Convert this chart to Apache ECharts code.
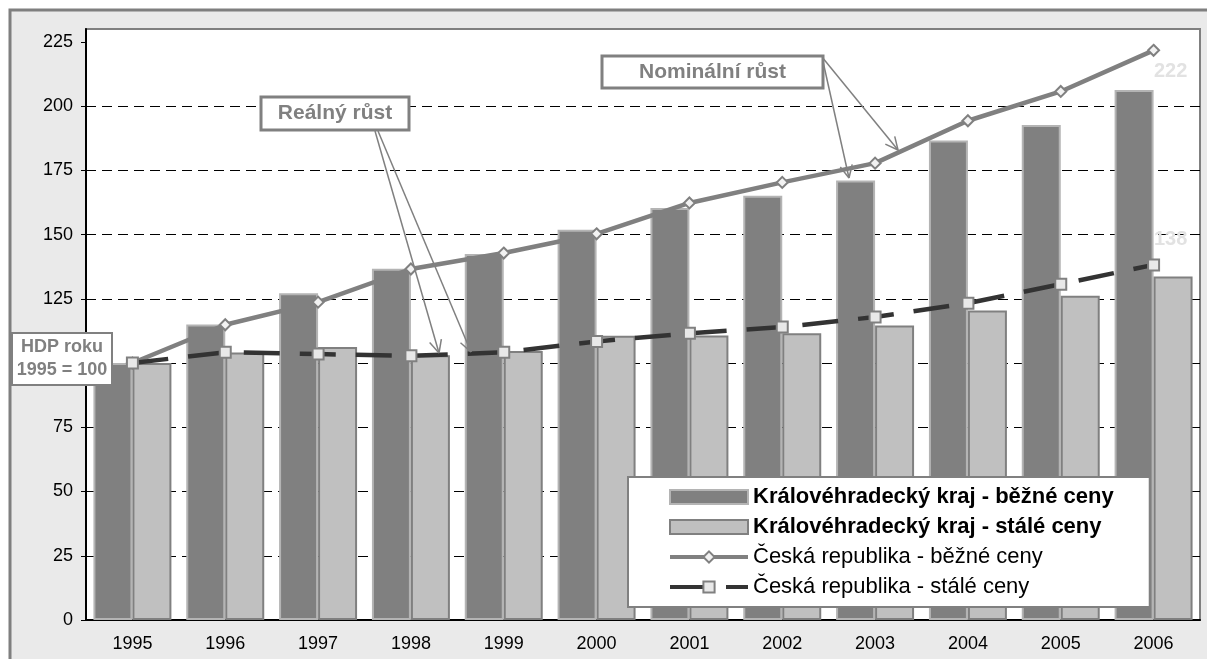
<!DOCTYPE html>
<html>
<head>
<meta charset="utf-8">
<script src="https://cdn.jsdelivr.net/npm/echarts@6/dist/echarts.min.js"></script>
<style>
  html, body { margin: 0; padding: 0; background: #fff; }
  #chart { width: 1207px; height: 659px; }
</style>
</head>
<body>
<div id="chart"></div>
<script>
const years = ['1995', '1996', '1997', '1998', '1999', '2000', '2001', '2002', '2003', '2004', '2005', '2006'];
const krajBezne = [100, 115, 127.2, 136.7, 142.4, 151.9, 160.3, 165.1, 171, 186.6, 192.6, 206.3];
const krajStale = [100, 104.1, 106.2, 103, 104.7, 110.6, 110.7, 111.6, 114.6, 120.4, 126.2, 133.7];
const crBezne = [100, 114.9, 123.7, 136.6, 142.8, 150.3, 162.3, 170.3, 177.8, 194.3, 205.7, 221.7];
const crStale = [100, 104.2, 103.5, 102.8, 104.2, 108.4, 111.6, 114, 117.9, 123.3, 130.7, 138.2];
const yTicks = [0, 25, 50, 75, 100, 125, 150, 175, 200, 225];

const names = [
  'Královéhradecký kraj - běžné ceny',
  'Královéhradecký kraj - stálé ceny',
  'Česká republika - běžné ceny',
  'Česká republika - stálé ceny'
];

const FONT = "'Liberation Sans', Arial, sans-serif";
const GRAY = '#808080';

const chart = echarts.init(document.getElementById('chart'));

// label on the last point only
function lastLabel(arr, offset) {
  return arr.map((v, i) => i === arr.length - 1 ? {
    value: v,
    label: {
      show: true,
      position: 'inside',
      offset: offset,
      formatter: p => Math.round(p.value),
      color: '#e2e2e2',
      fontFamily: FONT,
      fontWeight: 'bold',
      fontSize: 20
    }
  } : v);
}

// open arrow: line plus two short head strokes
function arrow(x1, y1, x2, y2) {
  const a = Math.atan2(y2 - y1, x2 - x1);
  const len = 14, spread = 0.45;
  const style = { stroke: GRAY, lineWidth: 1.5 };
  return [
    { type: 'line', z: 100, shape: { x1, y1, x2, y2 }, style },
    { type: 'line', z: 100, shape: { x1: x2, y1: y2, x2: x2 - len * Math.cos(a - spread), y2: y2 - len * Math.sin(a - spread) }, style },
    { type: 'line', z: 100, shape: { x1: x2, y1: y2, x2: x2 - len * Math.cos(a + spread), y2: y2 - len * Math.sin(a + spread) }, style }
  ];
}

function callout(x, y, w, h, text, size, lw) {
  return [
    { type: 'rect', z: 101, shape: { x, y, width: w, height: h },
      style: { fill: '#fff', stroke: GRAY, lineWidth: lw } },
    { type: 'text', z: 102, x: x + w / 2, y: y + h / 2,
      style: { text, fill: GRAY, font: 'bold ' + size + 'px ' + FONT,
        align: 'center', verticalAlign: 'middle', lineHeight: 23 } }
  ];
}

const option = {
  animation: false,
  textStyle: { fontFamily: FONT },
  grid: {
    left: 86, right: 7, top: 29, bottom: 39,
    show: true, backgroundColor: '#fff', borderColor: GRAY, borderWidth: 2
  },
  legend: {
    orient: 'vertical',
    left: 628, top: 477,
    backgroundColor: '#fff',
    borderColor: GRAY, borderWidth: 2,
    padding: [8, 36, 8, 40],
    itemWidth: 78, itemHeight: 14, itemGap: 6,
    textStyle: { fontSize: 22, color: '#000', lineHeight: 24, fontFamily: FONT },
    data: [
      { name: names[0], icon: 'rect', textStyle: { fontWeight: 'bold' } },
      { name: names[1], icon: 'rect', textStyle: { fontWeight: 'bold' } },
      { name: names[2], lineStyle: { width: 4 } },
      { name: names[3], lineStyle: { width: 4 } }
    ]
  },
  xAxis: {
    type: 'category',
    data: years,
    axisLine: { lineStyle: { color: '#000', width: 2 } },
    axisTick: { interval: 0, length: 5, lineStyle: { color: '#000' } },
    axisLabel: { color: '#000', fontSize: 18, margin: 15, interval: 0 }
  },
  yAxis: {
    type: 'value',
    min: 0, max: 230, interval: 25,
    axisLine: { show: true, lineStyle: { color: '#000', width: 2 } },
    axisTick: { show: true, length: 5, customValues: yTicks, lineStyle: { color: '#000' } },
    axisLabel: { color: '#000', fontSize: 18, margin: 13, customValues: yTicks },
    splitLine: {
      showMinLine: false, showMaxLine: false,
      lineStyle: { color: '#000', width: 1, type: [10, 6] }
    }
  },
  series: [
    {
      name: names[0], type: 'bar', data: krajBezne,
      barGap: '0%', barCategoryGap: '16%',
      itemStyle: { color: GRAY, borderColor: '#b4b4b4', borderWidth: 2 }
    },
    {
      name: names[1], type: 'bar', data: krajStale,
      barGap: '0%', barCategoryGap: '16%',
      itemStyle: { color: '#c0c0c0', borderColor: GRAY, borderWidth: 2 }
    },
    {
      name: names[2], type: 'line', data: lastLabel(crBezne, [17, 21]),
      symbol: 'diamond', symbolSize: 11, z: 5,
      lineStyle: { color: GRAY, width: 4.5 },
      itemStyle: { color: '#f2f2f2', borderColor: GRAY, borderWidth: 2 }
    },
    {
      name: names[3], type: 'line', data: lastLabel(crStale, [17, -25]),
      symbol: 'rect', symbolSize: 11, z: 5,
      lineStyle: { color: '#333', width: 4.5, type: [36, 20] },
      itemStyle: { color: '#e8e8e8', borderColor: GRAY, borderWidth: 2 }
    }
  ],
  graphic: [
    { type: 'rect', z: -10, silent: true, shape: { x: 10, y: 10, width: 1230, height: 700 },
      style: { fill: '#eaeaea', stroke: '#7f7f7f', lineWidth: 3 } },
    ...arrow(375, 131, 439, 353),
    ...arrow(378, 131, 471, 352),
    ...arrow(822, 57, 849, 178),
    ...arrow(822, 57, 898, 150),
    ...callout(261, 97, 148, 33, 'Reálný růst', 21, 3),
    ...callout(602, 56, 221, 32, 'Nominální růst', 21, 3),
    ...callout(12, 333, 100, 52, 'HDP roku\n1995 = 100', 18, 2)
  ]
};

chart.setOption(option);
</script>
</body>
</html>
